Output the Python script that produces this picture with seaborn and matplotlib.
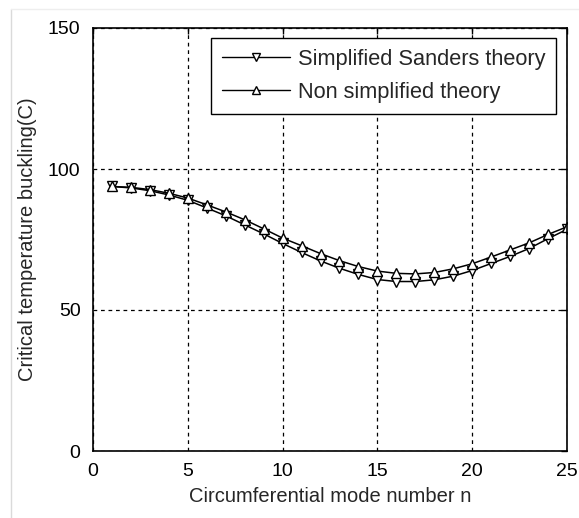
import pandas as pd
import matplotlib
matplotlib.use("Agg")
import matplotlib.pyplot as plt
import seaborn as sns
from matplotlib.lines import Line2D

# values
mode_n = list(range(1, 26))
simplified_sanders = [93.8, 93.3, 92.3, 90.8, 88.9, 86.2, 83.4, 80.2, 77.0, 73.6,
                      70.4, 67.4, 64.8, 62.6, 60.8, 60.1, 60.1, 60.7, 62.0, 64.0,
                      66.5, 69.0, 71.8, 75.3, 78.6]
non_simplified = [93.8, 93.5, 92.7, 91.4, 89.7, 87.3, 84.8, 82.0, 78.8, 75.5,
                  72.8, 70.0, 67.5, 65.4, 63.8, 63.0, 62.8, 63.3, 64.6, 66.4,
                  68.8, 71.3, 73.8, 76.8, 79.5]
series_names = ["Simplified Sanders theory", "Non simplified theory"]
x_ticks = [0, 5, 10, 15, 20, 25]
y_ticks = [0, 50, 100, 150]

df = pd.DataFrame({
    "n": mode_n * 2,
    "T": simplified_sanders + non_simplified,
    "theory": [series_names[0]] * len(mode_n) + [series_names[1]] * len(mode_n),
})

sns.set_style("white")
plt.rcParams["font.family"] = ["Liberation Sans", "DejaVu Sans"]

fig = plt.figure(figsize=(5.79, 5.18), dpi=100)
ax = fig.add_axes([93 / 579, 1 - 451 / 518, 474 / 579, 423 / 518])

sns.lineplot(data=df, x="n", y="T", hue="theory", style="theory",
             palette=["black", "black"], markers={series_names[0]: "v", series_names[1]: "^"},
             dashes=False, linewidth=1.1, markersize=7, markerfacecolor="white",
             markeredgecolor="black", markeredgewidth=1.0, ax=ax, legend=False)

ax.set_xlim(0, 25)
ax.set_ylim(0, 150)
ax.set_xticks(x_ticks)
ax.set_yticks(y_ticks)
ax.grid(True, color="black", linestyle=(0, (3, 3)), linewidth=0.9)
ax.tick_params(direction="in", length=4, width=1, labelsize=14, colors="black",
               top=True, right=True, pad=9)
for s in ax.spines.values():
    s.set_color("black")
    s.set_linewidth(1.2)
    s.set_visible(True)

ax.set_xlabel("Circumferential mode number n", fontsize=14.5, labelpad=5)
ax.set_ylabel("Critical temperature buckling(C)", fontsize=14.5, labelpad=8)

# legend drawn by hand so the box looks like the matlab one
handles = [Line2D([], [], color="black", lw=1, marker="v", mfc="white", mec="black", ms=6),
           Line2D([], [], color="black", lw=1, marker="^", mfc="white", mec="black", ms=6)]
leg = ax.legend(handles, series_names, loc="upper right", bbox_to_anchor=(0.977, 0.976),
                borderaxespad=0, fancybox=False, framealpha=1, edgecolor="black",
                fontsize=15.7, handlelength=3.1, handletextpad=0.37, labelspacing=0.55,
                borderpad=0.5)
leg.get_frame().set_linewidth(1.0)

# faint screenshot frame at the left/top
fig.add_artist(Line2D([11 / 579, 11 / 579], [0, 1 - 9 / 518], color="#dadada", lw=1))
fig.add_artist(Line2D([11 / 579, 1], [1 - 9 / 518, 1 - 9 / 518], color="#eeeeee", lw=1))

fig.savefig("out.png", dpi=100)
